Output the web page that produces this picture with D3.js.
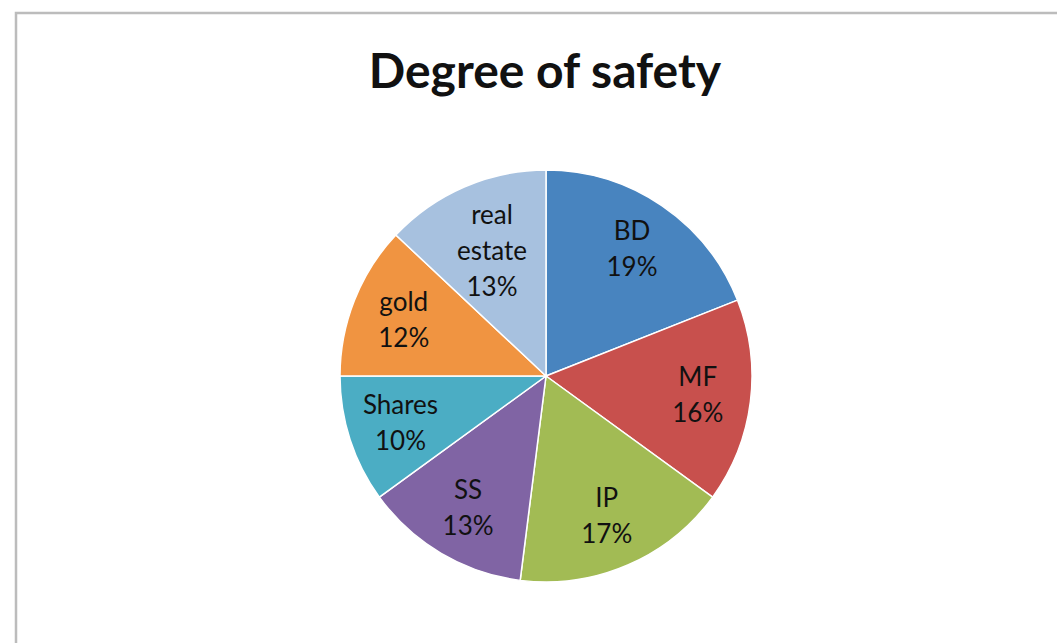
<!DOCTYPE html>
<html>
<head>
<meta charset="utf-8">
<script src="https://cdn.jsdelivr.net/npm/d3@7"></script>
<style>
  html, body { margin: 0; padding: 0; background: #fff; }
  svg { display: block; }
</style>
</head>
<body>
<svg id="chart" width="1057" height="643"></svg>
<script>
// Degree of safety by investment type (share of responses, %)
const categories = ["BD", "MF", "IP", "SS", "Shares", "gold", "real estate"];
const values = [19, 16, 17, 13, 10, 12, 13];
const colors = ["#4884bf", "#c8504d", "#a2bb54", "#8064a4", "#4badc4", "#f09441", "#a7c1df"];
const labelLines = [["BD"], ["MF"], ["IP"], ["SS"], ["Shares"], ["gold"], ["real", "estate"]];

const svg = d3.select("#chart");
const W = 1057, H = 643;

// chart frame
svg.append("rect")
  .attr("x", 16).attr("y", 13)
  .attr("width", W + 20).attr("height", H + 20)
  .attr("fill", "#fff")
  .attr("stroke", "#bcbcbc")
  .attr("stroke-width", 2.5);

svg.append("text")
  .attr("x", 545).attr("y", 88)
  .attr("text-anchor", "middle")
  .attr("font-family", "Lato, 'Open Sans', sans-serif")
  .attr("font-weight", "bold")
  .attr("font-size", 48)
  .attr("fill", "#111")
  .text("Degree of safety");

const cx = 546, cy = 376, R = 206;

const pie = d3.pie().sort(null).value(d => d.value);
const data = categories.map((c, i) => ({ name: c, value: values[i], color: colors[i], lines: labelLines[i] }));
const arcs = pie(data);

const arc = d3.arc().innerRadius(0).outerRadius(R);
// taller (three-line) labels sit a little closer to the centre
const labelRadius = n => (n > 2 ? 136 : 153);

const g = svg.append("g").attr("transform", `translate(${cx},${cy})`);

g.selectAll("path")
  .data(arcs)
  .join("path")
  .attr("d", arc)
  .attr("fill", d => d.data.color)
  .attr("stroke", "#fff")
  .attr("stroke-width", 1.5);

const lineH = 36;
const labels = g.selectAll("g.label")
  .data(arcs)
  .join("g")
  .attr("class", "label")
  .attr("transform", d => {
    const r = labelRadius(d.data.lines.length + 1);
    const [x, y] = d3.arc().innerRadius(r).outerRadius(r).centroid(d);
    return `translate(${x},${y})`;
  });

labels.each(function (d) {
  const lines = d.data.lines.concat([d.data.value + "%"]);
  const n = lines.length;
  const t = d3.select(this).append("text")
    .attr("text-anchor", "middle")
    .attr("font-family", "Lato, 'Open Sans', sans-serif")
    .attr("font-size", 26)
    .attr("fill", "#111");
  lines.forEach((ln, i) => {
    t.append("tspan")
      .attr("x", 0)
      .attr("y", (i - (n - 1) / 2) * lineH + 9)
      .text(ln);
  });
});
</script>
</body>
</html>
